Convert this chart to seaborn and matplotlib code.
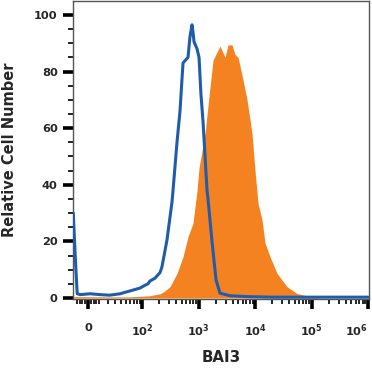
"""
Flow cytometry histogram: BAI3 staining vs isotype control.
"""
import matplotlib
matplotlib.use('Agg')
import matplotlib.pyplot as plt
import numpy as np
import pandas as pd
import seaborn as sns

# isotype control (blue outline)
control_x = [-14, -12, -10, -7, 2, 11, 22, 38, 47, 59, 73, 90, 111, 126,
             137, 168, 207, 224, 275, 338, 352, 414, 468, 529, 649, 700,
             764, 800, 829, 937, 1017, 1100, 1200, 1409, 1467, 1727, 2033,
             2394, 3600, 7200, 20000, 100000, 1000000]
control_y = [30, 15, 1.5, 1.2, 1.5, 1.2, 1.0, 1.5, 2, 2.5, 3, 3.5, 4.5, 5,
             6, 7, 9, 11, 20.5, 34, 38, 55, 66, 83, 85, 92,
             96.5, 93.5, 90.5, 88, 85, 72, 62, 38, 35, 20, 6.4,
             1.7, 0.8, 0.5, 0.3, 0.3, 0.3]

# BAI3 stained cells (orange fill)
stain_x = [-14, -10, 20, 59, 137, 207, 240, 311, 414, 529, 649, 795, 937,
           1017, 1149, 1298, 1467, 1799, 2394, 2934, 3317, 3905, 4411,
           4987, 6112, 7196, 8131, 8820, 9970, 11260, 13265, 14990,
           18375, 24440, 36760, 55260, 86600, 141200, 1000000]
stain_y = [0.5, 0.5, 0.4, 0.4, 0.8, 1.5, 2.2, 4, 8.7, 14.6, 21.7, 26.4, 38,
           46, 52, 58, 68, 84, 89, 85, 89.4, 89.4, 86,
           85, 77, 70, 63, 58, 45, 33.5, 27.6, 19.4,
           14.6, 8.7, 4, 1.6, 0.7, 0, 0]

x_major = [0, 1e2, 1e3, 1e4, 1e5, 1e6]
x_labels = ['0', '$10^{2}$', '$10^{3}$', '$10^{4}$', '$10^{5}$', '$10^{6}$']

W = 22.0


def fwd(x):
    """Biexponential-like display transform."""
    return np.arcsinh(np.asarray(x) / W) / np.log(10)


def inv(u):
    return W * np.sinh(np.asarray(u) * np.log(10))


def main():
    sns.set_style('ticks')
    plt.rcParams['font.family'] = ['DejaVu Sans']
    plt.rcParams['mathtext.default'] = 'bf'

    fig = plt.figure(figsize=(3.72, 3.72), dpi=100)
    ax = fig.add_axes([73 / 372, 73 / 372, 296 / 372, 298 / 372])
    ax.set_xscale('function', functions=(fwd, inv))

    stain = pd.DataFrame({'x': stain_x, 'y': stain_y})
    ctrl = pd.DataFrame({'x': control_x, 'y': control_y})

    ax.fill_between(stain['x'], stain['y'], 0, color='#f58220', lw=0,
                    zorder=2)
    sns.lineplot(data=ctrl, x='x', y='y', ax=ax, color='#1f5cab', lw=2.2,
                 sort=False, zorder=3)

    ax.set_xlim(-14.3, 1.04e6)
    ax.set_ylim(-0.35, 104.9)

    ax.set_xticks(x_major)
    ax.set_xticklabels(x_labels)
    minors = [-10, -7.5, -5, -2.5, 2.5, 5, 7.5, 10]
    for k in range(1, 6):
        minors += [m * 10 ** k for m in range(2, 10)]
    ax.set_xticks(minors, minor=True)

    ax.set_yticks(range(0, 101, 20))
    ax.set_yticks(range(0, 101, 5), minor=True)

    ax.tick_params(axis='both', which='major', length=7, width=2.6,
                   color='black', labelsize=8.2)
    ax.tick_params(axis='both', which='minor', length=3.5, width=1.2,
                   color='black')
    ax.tick_params(axis='x', which='major', pad=10)
    ax.tick_params(axis='y', which='major', pad=4)
    for lab in ax.get_xticklabels() + ax.get_yticklabels():
        lab.set_fontweight('bold')
    ax.get_xticklabels()[-1].set_horizontalalignment('right')

    for side in ['top', 'right', 'bottom', 'left']:
        ax.spines[side].set_color('#555555')
        ax.spines[side].set_linewidth(1.0)

    ax.set_xlabel('BAI3', fontsize=10.8, fontweight='bold', labelpad=8)
    ax.set_ylabel('Relative Cell Number', fontsize=10.5, fontweight='bold',
                  labelpad=12)

    fig.savefig('out.png', dpi=100)


if __name__ == '__main__':
    main()
